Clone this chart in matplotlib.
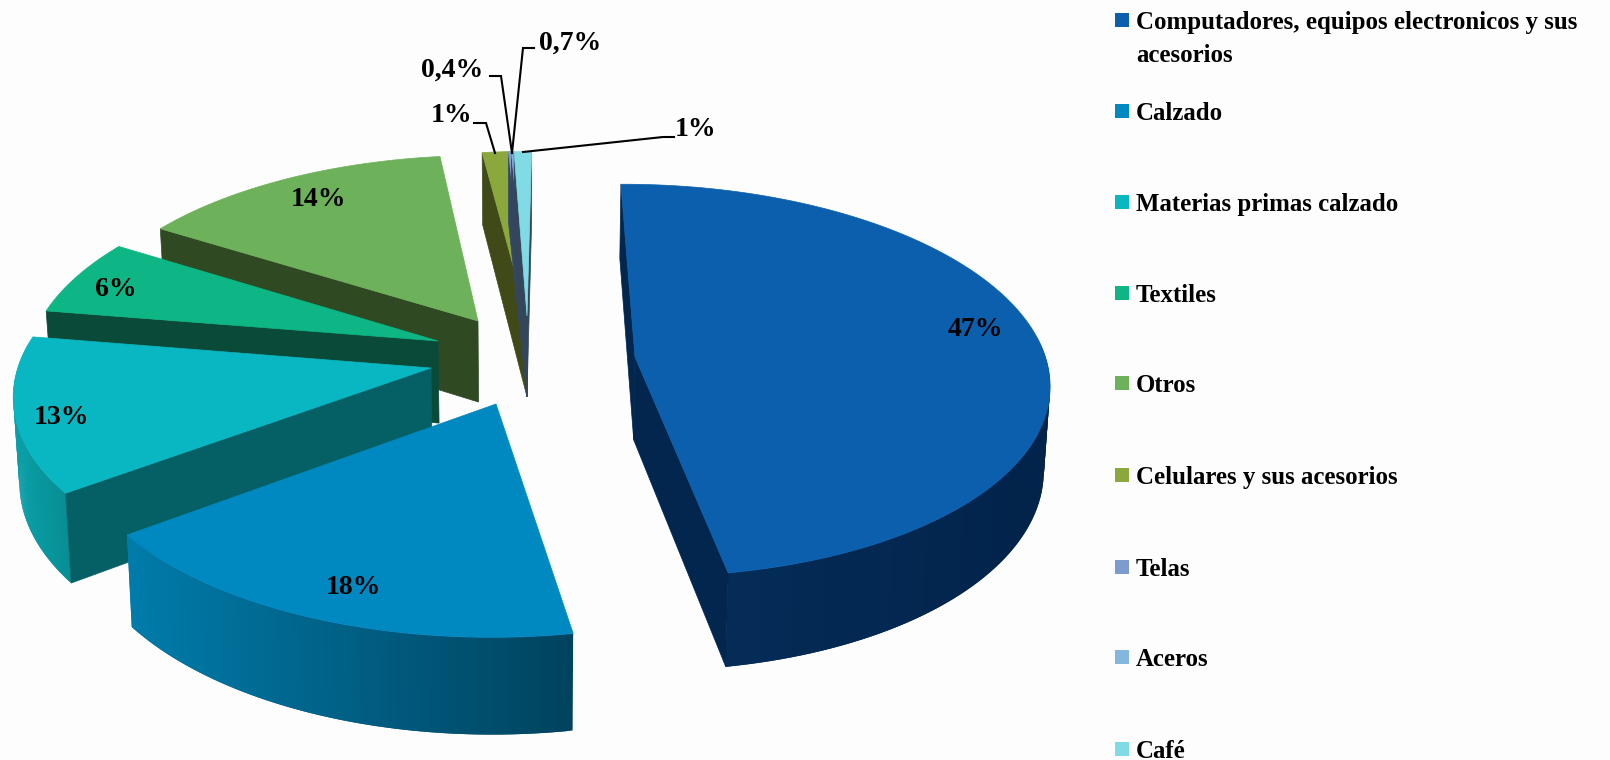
import numpy as np
import matplotlib
matplotlib.use('Agg')
import matplotlib.pyplot as plt
from matplotlib.collections import PolyCollection
from matplotlib.colors import to_rgb

# datos del grafico
categorias = ['Computadores, equipos electronicos y sus\nacesorios', 'Calzado',
              'Materias primas calzado', 'Textiles', 'Otros',
              'Celulares y sus acesorios', 'Telas', 'Aceros', 'Café']
# parte de cada sector tal como se ve en el dibujo (%)
partes = [47.4, 17.6, 12.7, 6.3, 14.2, 1.17, 0.13, 0.12, 0.78]
etiquetas = ['47%', '18%', '13%', '6%', '14%', '1%', '0,4%', '0,7%', '1%']

# colores
col_top = ['#0b5fad', '#0088c0', '#09b7c2', '#0eb585', '#6db25a',
           '#8aa83c', '#7d9bcf', '#84b7df', '#80dbe5']
col_rad = ['#02264d', '#005a7c', '#056065', '#0a4a38', '#2f4a22',
           '#404a18', '#33466b', '#33465a', '#33465a']
col_izq = ['#05305c', '#007cab', '#0a9fa8', '#0a7a5a', '#4a7a3c',
           '#5c7028', '#50688c', '#46607a', '#46607a']
col_der = ['#02234a', '#00435e', '#078f94', '#086048', '#3a6030',
           '#4c5c20', '#40587c', '#46607a', '#46607a']

# vertice de cada sector separado (pixeles)
vertice_x = [635, 496, 431, 438, 478, 527, 527, 527, 527]
vertice_y = [357, 404, 368, 341, 321, 316, 316, 316, 316]
giro = [0, 0, 0, 0, 0, -0.3, -0.3, -0.3, -0.3]  # ajuste fino del angulo
orden = [4, 5, 6, 7, 8, 3, 2, 1, 0]  # de atras hacia adelante

# perspectiva
U0, V0 = 527, 300
R, A, K = 396, 180, 0.115
PROF = 80
INICIO = -0.4


def proyectar(x, y, z=0.0):
    s = 1 / (1 - K * y)
    u = U0 + R * x * s
    v = V0 + A * y * s
    return u - (u - U0) * 0.012 * z, v + PROF * s * z


def inverso(u, v):
    dv = v - V0
    y = dv / (A + K * dv)
    s = 1 / (1 - K * y)
    return (u - U0) / (R * s), y


fig = plt.figure(figsize=(16.1, 7.6), dpi=100, facecolor='#fdfdfd')
ax = fig.add_axes([0, 0, 1, 1])
ax.set_xlim(0, 1610)
ax.set_ylim(760, 0)
ax.axis('off')

fin = INICIO + np.cumsum(partes) * 3.6
ini = np.r_[INICIO, fin[:-1]]

for i in orden:
    x0, y0 = inverso(vertice_x[i], vertice_y[i])
    grados = np.linspace(ini[i], fin[i], 120) + giro[i]
    th = np.radians(grados)
    xs = x0 + np.sin(th)
    ys = y0 - np.cos(th)
    ut, vt = proyectar(xs, ys)
    ub, vb = proyectar(xs, ys, 1.0)
    ua, va_ = proyectar(x0, y0)
    uab, vab = proyectar(x0, y0, 1.0)

    # pared exterior con degradado, solo la parte que mira al frente
    c1 = np.array(to_rgb(col_izq[i]))
    c2 = np.array(to_rgb(col_der[i]))
    f = (ut - ut.min()) / max(ut.max() - ut.min(), 1)
    n = len(th)
    polys, cols = [], []
    for k in range(n - 1):
        if -np.cos(th[k]) < -0.12:
            continue
        j = min(k + 2, n - 1)
        polys.append([(ut[k], vt[k]), (ut[j], vt[j]), (ub[j], vb[j]), (ub[k], vb[k])])
        cols.append(c1 + (c2 - c1) * f[k])
    if polys:
        ax.add_collection(PolyCollection(polys, facecolors=cols, edgecolors='none'))

    # paredes radiales que se ven
    if -np.cos(th[0] - np.pi / 2) > -0.05:
        ax.fill([ua, ut[0], ub[0], uab], [va_, vt[0], vb[0], vab], color=col_rad[i], lw=0.5)
    if -np.cos(th[-1] + np.pi / 2) > -0.05:
        ax.fill([ua, ut[-1], ub[-1], uab], [va_, vt[-1], vb[-1], vab], color=col_rad[i], lw=0.5)

    # cara superior
    ax.fill(np.r_[ua, ut], np.r_[va_, vt], color=col_top[i], lw=0.5)

# etiquetas de los sectores
pos_etq = {0: (975, 329), 1: (353, 588), 2: (61, 417), 3: (116, 289), 4: (318, 199),
           5: (452, 115), 6: (452, 70), 7: (570, 43), 8: (696, 130)}
for i, e in enumerate(etiquetas):
    ax.text(pos_etq[i][0], pos_etq[i][1], e, ha='center', va='center', color='black',
            family='Liberation Serif', weight='bold', fontsize=20)

# lineas guia
guias = [([474, 486, 495], [123, 123, 153]),
         ([490, 501, 512], [76, 76, 153]),
         ([534, 523, 512], [48, 48, 153]),
         ([674, 663, 523], [137, 137, 152])]
for gx, gy in guias:
    ax.plot(gx, gy, color='black', lw=1.5, solid_joinstyle='miter')

# leyenda
ley_y = [20, 111, 202, 293, 383, 475, 567, 657, 749]
for i, c in enumerate(categorias):
    ax.fill([1115, 1129, 1129, 1115],
            [ley_y[i] - 7, ley_y[i] - 7, ley_y[i] + 7, ley_y[i] + 7], color=col_top[i], lw=0)
    ax.text(1136, ley_y[i] - 9, c, ha='left', va='top', color='black', linespacing=1.55,
            family='Liberation Serif', weight='bold', fontsize=17.9)

plt.savefig('out.png', dpi=100, facecolor=fig.get_facecolor())
